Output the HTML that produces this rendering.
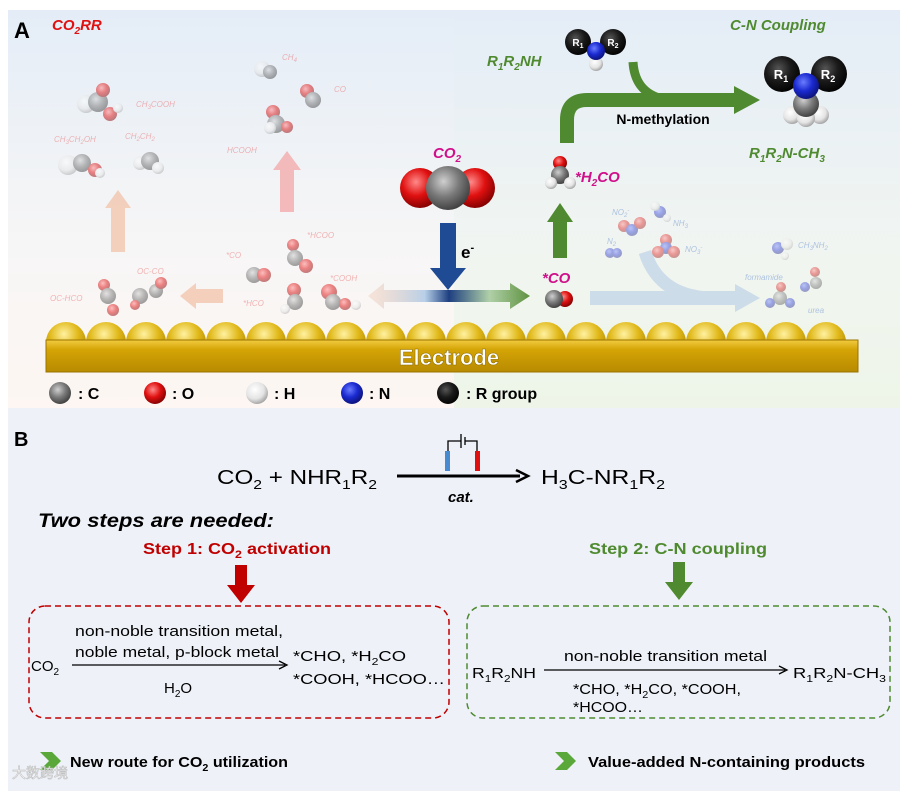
<!DOCTYPE html>
<html><head><meta charset="utf-8"><style>
html,body{margin:0;padding:0;background:#fff;}
svg{display:block;font-family:"Liberation Sans",Arial,sans-serif;}
.n{font-family:"Liberation Sans Narrow","Liberation Sans",sans-serif;}
</style></head><body>
<svg width="901" height="791" viewBox="0 0 901 791" xmlns="http://www.w3.org/2000/svg">
<defs>
<linearGradient id="bgA" x1="0" y1="0" x2="0" y2="1"><stop offset="0" stop-color="#e4edf7"/><stop offset="0.6" stop-color="#f7f6f6"/><stop offset="1" stop-color="#fdf6f2"/></linearGradient>
<linearGradient id="bgAr" x1="0" y1="0" x2="0" y2="1"><stop offset="0" stop-color="#e4edf7"/><stop offset="0.6" stop-color="#f1f5f1"/><stop offset="1" stop-color="#eef5e8"/></linearGradient>
<radialGradient id="gC" cx="0.4" cy="0.35" r="0.7"><stop offset="0" stop-color="#cfcfcf"/><stop offset="0.5" stop-color="#7a7a7a"/><stop offset="1" stop-color="#3a3a3a"/></radialGradient>
<radialGradient id="gO" cx="0.4" cy="0.35" r="0.7"><stop offset="0" stop-color="#ff8a8a"/><stop offset="0.5" stop-color="#e01010"/><stop offset="1" stop-color="#7a0000"/></radialGradient>
<radialGradient id="gH" cx="0.4" cy="0.35" r="0.7"><stop offset="0" stop-color="#ffffff"/><stop offset="0.6" stop-color="#e4e4e4"/><stop offset="1" stop-color="#9a9a9a"/></radialGradient>
<radialGradient id="gN" cx="0.4" cy="0.35" r="0.7"><stop offset="0" stop-color="#6a7cff"/><stop offset="0.5" stop-color="#1a2ad0"/><stop offset="1" stop-color="#0a1070"/></radialGradient>
<radialGradient id="gR" cx="0.4" cy="0.35" r="0.7"><stop offset="0" stop-color="#555"/><stop offset="0.5" stop-color="#1a1a1a"/><stop offset="1" stop-color="#000"/></radialGradient>
<radialGradient id="gAu" cx="0.45" cy="0.3" r="0.8"><stop offset="0" stop-color="#fff1a0"/><stop offset="0.45" stop-color="#e0b818"/><stop offset="1" stop-color="#a07800"/></radialGradient>
<linearGradient id="hbar" x1="0" y1="0" x2="1" y2="0"><stop offset="0" stop-color="#f6d2bc" stop-opacity="0.5"/><stop offset="0.35" stop-color="#b8d0e8"/><stop offset="0.5" stop-color="#1e3f80"/><stop offset="0.75" stop-color="#b0d0a8"/><stop offset="1" stop-color="#5e9240"/></linearGradient>
<linearGradient id="bar" x1="0" y1="0" x2="0" y2="1"><stop offset="0" stop-color="#f2cc40"/><stop offset="0.3" stop-color="#d4a406"/><stop offset="1" stop-color="#b88a00"/></linearGradient>
</defs>

<!-- Panel A background -->
<rect x="8" y="10" width="446" height="398" fill="url(#bgA)"/>
<rect x="454" y="10" width="446" height="398" fill="url(#bgAr)"/>
<!-- Panel B background -->
<rect x="8" y="408" width="892" height="383" fill="#eef2f8"/>

<text x="14" y="38" font-size="22" font-weight="bold">A</text>
<text x="52" y="30" font-size="15" font-weight="bold" font-style="italic" fill="#e01010">CO<tspan font-size="10" dy="4">2</tspan><tspan dy="-4">RR</tspan></text>

<!-- faded CO2RR products -->
<g opacity="0.45" font-style="italic" font-size="8" fill="#e86060">
<text x="136" y="107">CH<tspan font-size="6" dy="2">3</tspan><tspan dy="-2">COOH</tspan></text>
<text x="54" y="142">CH<tspan font-size="6" dy="2">3</tspan><tspan dy="-2">CH</tspan><tspan font-size="6" dy="2">2</tspan><tspan dy="-2">OH</tspan></text>
<text x="125" y="139">CH<tspan font-size="6" dy="2">2</tspan><tspan dy="-2">CH</tspan><tspan font-size="6" dy="2">2</tspan></text>
<text x="282" y="60">CH<tspan font-size="6" dy="2">4</tspan></text>
<text x="334" y="92">CO</text>
<text x="227" y="153">HCOOH</text>
<text x="307" y="238">*HCOO</text>
<text x="226" y="258">*CO</text>
<text x="330" y="281">*COOH</text>
<text x="243" y="306">*HCO</text>
<text x="137" y="274">OC-CO</text>
<text x="50" y="301">OC-HCO</text>
</g>
<g opacity="0.5">
<circle cx="86" cy="104" r="9" fill="url(#gH)"/><circle cx="98" cy="102" r="10" fill="url(#gC)"/><circle cx="103" cy="90" r="7" fill="url(#gO)"/><circle cx="110" cy="114" r="7" fill="url(#gO)"/><circle cx="118" cy="108" r="5" fill="url(#gH)"/>
<circle cx="68" cy="165" r="10" fill="url(#gH)"/><circle cx="82" cy="163" r="9" fill="url(#gC)"/><circle cx="95" cy="170" r="7" fill="url(#gO)"/><circle cx="100" cy="173" r="5" fill="url(#gH)"/>
<circle cx="140" cy="163" r="7" fill="url(#gH)"/><circle cx="150" cy="161" r="9" fill="url(#gC)"/><circle cx="158" cy="168" r="6" fill="url(#gH)"/>
<circle cx="262" cy="69" r="8" fill="url(#gH)"/><circle cx="270" cy="72" r="7" fill="url(#gC)"/>
<circle cx="307" cy="91" r="7" fill="url(#gO)"/><circle cx="313" cy="100" r="8" fill="url(#gC)"/>
<circle cx="273" cy="112" r="7" fill="url(#gO)"/><circle cx="276" cy="124" r="9" fill="url(#gC)"/><circle cx="287" cy="127" r="6" fill="url(#gO)"/><circle cx="270" cy="128" r="6" fill="url(#gH)"/>
<circle cx="293" cy="245" r="6" fill="url(#gO)"/><circle cx="295" cy="258" r="8" fill="url(#gC)"/><circle cx="306" cy="266" r="7" fill="url(#gO)"/>
<circle cx="254" cy="275" r="8" fill="url(#gC)"/><circle cx="264" cy="275" r="7" fill="url(#gO)"/>
<circle cx="294" cy="290" r="7" fill="url(#gO)"/><circle cx="295" cy="302" r="8" fill="url(#gC)"/><circle cx="285" cy="309" r="5" fill="url(#gH)"/>
<circle cx="329" cy="292" r="8" fill="url(#gO)"/><circle cx="333" cy="302" r="8" fill="url(#gC)"/><circle cx="345" cy="304" r="6" fill="url(#gO)"/><circle cx="356" cy="305" r="5" fill="url(#gH)"/>
<circle cx="104" cy="285" r="6" fill="url(#gO)"/><circle cx="108" cy="296" r="8" fill="url(#gC)"/><circle cx="113" cy="310" r="6" fill="url(#gO)"/>
<circle cx="140" cy="296" r="8" fill="url(#gC)"/><circle cx="156" cy="291" r="7" fill="url(#gC)"/><circle cx="161" cy="283" r="6" fill="url(#gO)"/><circle cx="135" cy="305" r="5" fill="url(#gO)"/>
</g>
<!-- faded arrows left -->
<g opacity="0.55">
<path d="M111 252 V208 H105 L118 190 L131 208 H125 V252 Z" fill="#f0b08c"/>
<path d="M280 212 V170 H273 L287 151 L301 170 H294 V212 Z" fill="#f48a8a"/>
<path d="M223 289 H196 V283 L180 296 L196 309 V303 H223 Z" fill="#f0b08c"/>
</g>
<!-- horizontal gradient bar -->
<path d="M384 290 H510 V283 L530 296 L510 309 V302 H384 V309 L368 296 L384 283 Z" fill="url(#hbar)"/>
<!-- faded blue right -->
<g opacity="0.4">
<path d="M590 291 H735 V284 L760 298 L735 312 V305 H590 Z" fill="#98b8e0"/>
<path d="M645 252 Q660 300 720 298" stroke="#98b8e0" stroke-width="13" fill="none"/>
<circle cx="610" cy="253" r="5" fill="url(#gN)"/><circle cx="617" cy="253" r="5" fill="url(#gN)"/>
<circle cx="624" cy="226" r="6" fill="url(#gO)"/><circle cx="632" cy="230" r="6" fill="url(#gN)"/><circle cx="640" cy="223" r="6" fill="url(#gO)"/>
<circle cx="660" cy="212" r="6" fill="url(#gN)"/><circle cx="655" cy="206" r="5" fill="url(#gH)"/><circle cx="667" cy="218" r="4" fill="url(#gH)"/>
<circle cx="666" cy="240" r="6" fill="url(#gO)"/><circle cx="666" cy="248" r="6" fill="url(#gN)"/><circle cx="658" cy="252" r="6" fill="url(#gO)"/><circle cx="674" cy="252" r="6" fill="url(#gO)"/>
<circle cx="778" cy="248" r="6" fill="url(#gN)"/><circle cx="787" cy="244" r="6" fill="url(#gH)"/><circle cx="785" cy="256" r="4" fill="url(#gH)"/>
<circle cx="780" cy="298" r="7" fill="url(#gC)"/><circle cx="781" cy="287" r="5" fill="url(#gO)"/><circle cx="770" cy="303" r="5" fill="url(#gN)"/><circle cx="790" cy="303" r="5" fill="url(#gN)"/>
<circle cx="815" cy="272" r="5" fill="url(#gO)"/><circle cx="816" cy="283" r="6" fill="url(#gC)"/><circle cx="805" cy="287" r="5" fill="url(#gN)"/>
</g>
<g opacity="0.5" font-style="italic" font-size="8" fill="#6a90d0">
<text x="612" y="215">NO<tspan font-size="6" dy="2">2</tspan><tspan font-size="6" dy="-5">-</tspan></text>
<text x="673" y="226">NH<tspan font-size="6" dy="2">3</tspan></text>
<text x="607" y="244">N<tspan font-size="6" dy="2">2</tspan></text>
<text x="685" y="252">NO<tspan font-size="6" dy="2">3</tspan><tspan font-size="6" dy="-5">-</tspan></text>
<text x="798" y="248">CH<tspan font-size="6" dy="2">3</tspan><tspan dy="-2">NH</tspan><tspan font-size="6" dy="2">2</tspan></text>
<text x="745" y="280">formamide</text>
<text x="808" y="313">urea</text>
</g>

<!-- CO2 molecule -->
<text x="433" y="158" font-size="15" font-weight="bold" font-style="italic" fill="#d0108a">CO<tspan font-size="10" dy="4">2</tspan></text>
<circle cx="420" cy="188" r="20" fill="url(#gO)"/>
<circle cx="475" cy="188" r="20" fill="url(#gO)"/>
<circle cx="448" cy="188" r="22" fill="url(#gC)"/>
<!-- blue down arrow -->
<path d="M440 223 H456 V268 H466 L448 290 L430 268 H440 Z" fill="#1f4a94"/>
<text x="461" y="258" font-size="17" font-weight="bold">e<tspan font-size="11" dy="-7">-</tspan></text>

<!-- *CO -->
<text x="542" y="283" font-size="15" font-weight="bold" font-style="italic" fill="#d0108a">*CO</text>
<circle cx="565" cy="299" r="8" fill="url(#gO)"/>
<circle cx="554" cy="299" r="9" fill="url(#gC)"/>
<!-- green up arrow -->
<path d="M553 258 V222 H547 L560 203 L573 222 H567 V258 Z" fill="#4f8a30"/>
<!-- H2CO -->
<circle cx="560" cy="163" r="7" fill="url(#gO)"/>
<circle cx="560" cy="175" r="9" fill="url(#gC)"/>
<circle cx="551" cy="183" r="6" fill="url(#gH)"/><circle cx="570" cy="183" r="6" fill="url(#gH)"/>
<text x="575" y="182" font-size="15" font-weight="bold" font-style="italic" fill="#d0108a">*H<tspan font-size="10" dy="4">2</tspan><tspan dy="-4">CO</tspan></text>

<!-- big green arrow -->
<path d="M567 143 V120 Q567 100 587 100 H738" stroke="#4f8a30" stroke-width="14" fill="none"/>
<path d="M734 86 L760 100 L734 114 Z" fill="#4f8a30"/>
<path d="M633 62 Q635 95 668 100" stroke="#4f8a30" stroke-width="9" fill="none"/>
<text x="663" y="124" font-size="14" font-weight="bold" text-anchor="middle">N-methylation</text>

<text x="487" y="66" font-size="15" font-weight="bold" font-style="italic" fill="#4f8a30">R<tspan font-size="10" dy="4">1</tspan><tspan dy="-4">R</tspan><tspan font-size="10" dy="4">2</tspan><tspan dy="-4">NH</tspan></text>
<circle cx="596" cy="64" r="7" fill="url(#gH)"/>
<circle cx="578" cy="42" r="13" fill="url(#gR)"/>
<circle cx="613" cy="42" r="13" fill="url(#gR)"/>
<circle cx="596" cy="51" r="9" fill="url(#gN)"/>
<text x="578" y="46" font-size="10" font-weight="bold" fill="#fff" text-anchor="middle">R<tspan font-size="7" dy="2">1</tspan></text>
<text x="613" y="46" font-size="10" font-weight="bold" fill="#fff" text-anchor="middle">R<tspan font-size="7" dy="2">2</tspan></text>

<text x="730" y="30" font-size="15" font-weight="bold" font-style="italic" fill="#4f8a30">C-N Coupling</text>
<circle cx="792" cy="115" r="9" fill="url(#gH)"/><circle cx="820" cy="115" r="9" fill="url(#gH)"/>
<circle cx="806" cy="118" r="9" fill="url(#gH)"/>
<circle cx="806" cy="104" r="13" fill="url(#gC)"/>
<circle cx="782" cy="74" r="18" fill="url(#gR)"/>
<circle cx="829" cy="74" r="18" fill="url(#gR)"/>
<circle cx="806" cy="86" r="13" fill="url(#gN)"/>
<text x="781" y="79" font-size="13" font-weight="bold" fill="#fff" text-anchor="middle">R<tspan font-size="9" dy="3">1</tspan></text>
<text x="828" y="79" font-size="13" font-weight="bold" fill="#fff" text-anchor="middle">R<tspan font-size="9" dy="3">2</tspan></text>
<text x="749" y="158" font-size="15" font-weight="bold" font-style="italic" fill="#4f8a30">R<tspan font-size="10" dy="4">1</tspan><tspan dy="-4">R</tspan><tspan font-size="10" dy="4">2</tspan><tspan dy="-4">N-CH</tspan><tspan font-size="10" dy="4">3</tspan></text>

<!-- electrode -->
<g id="domes">
<circle cx="66" cy="342" r="20" fill="url(#gAu)"/><circle cx="106" cy="342" r="20" fill="url(#gAu)"/><circle cx="146" cy="342" r="20" fill="url(#gAu)"/><circle cx="186" cy="342" r="20" fill="url(#gAu)"/><circle cx="226" cy="342" r="20" fill="url(#gAu)"/><circle cx="266" cy="342" r="20" fill="url(#gAu)"/><circle cx="306" cy="342" r="20" fill="url(#gAu)"/><circle cx="346" cy="342" r="20" fill="url(#gAu)"/><circle cx="386" cy="342" r="20" fill="url(#gAu)"/><circle cx="426" cy="342" r="20" fill="url(#gAu)"/><circle cx="466" cy="342" r="20" fill="url(#gAu)"/><circle cx="506" cy="342" r="20" fill="url(#gAu)"/><circle cx="546" cy="342" r="20" fill="url(#gAu)"/><circle cx="586" cy="342" r="20" fill="url(#gAu)"/><circle cx="626" cy="342" r="20" fill="url(#gAu)"/><circle cx="666" cy="342" r="20" fill="url(#gAu)"/><circle cx="706" cy="342" r="20" fill="url(#gAu)"/><circle cx="746" cy="342" r="20" fill="url(#gAu)"/><circle cx="786" cy="342" r="20" fill="url(#gAu)"/><circle cx="826" cy="342" r="20" fill="url(#gAu)"/>
</g>
<rect x="46" y="340" width="812" height="32" fill="url(#bar)" stroke="#9a7400" stroke-width="1"/>
<text x="449" y="365" font-size="22" font-weight="bold" fill="#fff" text-anchor="middle" stroke="#8a6a00" stroke-width="0.5">Electrode</text>

<!-- legend -->
<g font-size="16" font-weight="bold">
<circle cx="60" cy="393" r="11" fill="url(#gC)"/><text x="78" y="399">: C</text>
<circle cx="155" cy="393" r="11" fill="url(#gO)"/><text x="172" y="399">: O</text>
<circle cx="257" cy="393" r="11" fill="url(#gH)"/><text x="274" y="399">: H</text>
<circle cx="352" cy="393" r="11" fill="url(#gN)"/><text x="369" y="399">: N</text>
<circle cx="448" cy="393" r="11" fill="url(#gR)"/><text x="466" y="399">: R group</text>
</g>

<!-- Panel B -->
<text x="14" y="446" font-size="20" font-weight="bold">B</text>
<g class="n" font-size="20">
<text x="217" y="484" textLength="160" lengthAdjust="spacingAndGlyphs">CO<tspan font-size="13" dy="5">2</tspan><tspan dy="-5"> + NHR</tspan><tspan font-size="13" dy="5">1</tspan><tspan dy="-5">R</tspan><tspan font-size="13" dy="5">2</tspan></text>
<text x="541" y="484" textLength="124" lengthAdjust="spacingAndGlyphs">H<tspan font-size="13" dy="5">3</tspan><tspan dy="-5">C-NR</tspan><tspan font-size="13" dy="5">1</tspan><tspan dy="-5">R</tspan><tspan font-size="13" dy="5">2</tspan></text>
</g>
<line x1="397" y1="476" x2="520" y2="476" stroke="#000" stroke-width="3"/>
<path d="M516 470 L528 476 L516 482" fill="none" stroke="#000" stroke-width="2.5"/>
<rect x="445" y="451" width="5" height="20" fill="#4a8ad0"/>
<rect x="475" y="451" width="5" height="20" fill="#e01010"/>
<path d="M448 451 V441 H461 M461 434 V448 M465 437 V445 M465 441 H477 V451" stroke="#000" stroke-width="1.3" fill="none"/>
<text x="448" y="502" class="n" font-size="15" font-weight="bold" font-style="italic">cat.</text>

<text x="38" y="527" class="n" font-size="19" font-weight="bold" font-style="italic" textLength="236" lengthAdjust="spacingAndGlyphs">Two steps are needed:</text>
<text x="143" y="554" class="n" font-size="16" font-weight="bold" fill="#c00000" textLength="188" lengthAdjust="spacingAndGlyphs">Step 1: CO<tspan font-size="11" dy="4">2</tspan><tspan dy="-4"> activation</tspan></text>
<text x="589" y="554" class="n" font-size="16" font-weight="bold" fill="#4f8a30" textLength="178" lengthAdjust="spacingAndGlyphs">Step 2: C-N coupling</text>
<path d="M235 565 H247 V585 H255 L241 603 L227 585 H235 Z" fill="#c00000"/>
<path d="M673 562 H685 V582 H693 L679 600 L665 582 H673 Z" fill="#4f8a30"/>

<rect x="29" y="606" width="420" height="112" rx="16" fill="none" stroke="#c00000" stroke-width="1.5" stroke-dasharray="6,4"/>
<rect x="467" y="606" width="423" height="112" rx="16" fill="none" stroke="#4f8a30" stroke-width="1.5" stroke-dasharray="6,4"/>

<g class="n" font-size="15">
<text x="75" y="636" textLength="208" lengthAdjust="spacingAndGlyphs">non-noble transition metal,</text>
<text x="75" y="657" textLength="204" lengthAdjust="spacingAndGlyphs">noble metal, p-block metal</text>
<text x="31" y="671">CO<tspan font-size="10" dy="4">2</tspan></text>
<text x="164" y="693">H<tspan font-size="10" dy="4">2</tspan><tspan dy="-4">O</tspan></text>
<text x="293" y="661" textLength="113" lengthAdjust="spacingAndGlyphs">*CHO, *H<tspan font-size="10" dy="4">2</tspan><tspan dy="-4">CO</tspan></text>
<text x="293" y="684" textLength="152" lengthAdjust="spacingAndGlyphs">*COOH, *HCOO…</text>
<text x="472" y="678" textLength="64" lengthAdjust="spacingAndGlyphs">R<tspan font-size="10" dy="4">1</tspan><tspan dy="-4">R</tspan><tspan font-size="10" dy="4">2</tspan><tspan dy="-4">NH</tspan></text>
<text x="564" y="661" textLength="203" lengthAdjust="spacingAndGlyphs">non-noble transition metal</text>
<text x="573" y="694" textLength="168" lengthAdjust="spacingAndGlyphs">*CHO, *H<tspan font-size="10" dy="4">2</tspan><tspan dy="-4">CO, *COOH,</tspan></text>
<text x="573" y="712" textLength="70" lengthAdjust="spacingAndGlyphs">*HCOO…</text>
<text x="793" y="678" textLength="93" lengthAdjust="spacingAndGlyphs">R<tspan font-size="10" dy="4">1</tspan><tspan dy="-4">R</tspan><tspan font-size="10" dy="4">2</tspan><tspan dy="-4">N-CH</tspan><tspan font-size="10" dy="4">3</tspan></text>
</g>
<line x1="72" y1="665" x2="285" y2="665" stroke="#000" stroke-width="1.3"/>
<path d="M279 661 L287 665 L279 669" fill="none" stroke="#000" stroke-width="1.3"/>
<line x1="544" y1="670" x2="785" y2="670" stroke="#000" stroke-width="1.3"/>
<path d="M779 666 L787 670 L779 674" fill="none" stroke="#000" stroke-width="1.3"/>

<path d="M40 752 H52 L61 761 L52 770 H40 L49 761 Z" fill="#5aa83a"/>
<path d="M555 752 H567 L576 761 L567 770 H555 L564 761 Z" fill="#5aa83a"/>
<text x="70" y="767" class="n" font-size="15" font-weight="bold" textLength="218" lengthAdjust="spacingAndGlyphs">New route for CO<tspan font-size="10" dy="4">2</tspan><tspan dy="-4"> utilization</tspan></text>
<text x="588" y="767" class="n" font-size="15" font-weight="bold" textLength="277" lengthAdjust="spacingAndGlyphs">Value-added  N-containing products</text>
<text x="12" y="778" font-size="14" fill="#fff" stroke="#bbb" stroke-width="0.6" font-family="Noto Sans CJK SC, sans-serif">大数跨境</text>
</svg>
</body></html>
